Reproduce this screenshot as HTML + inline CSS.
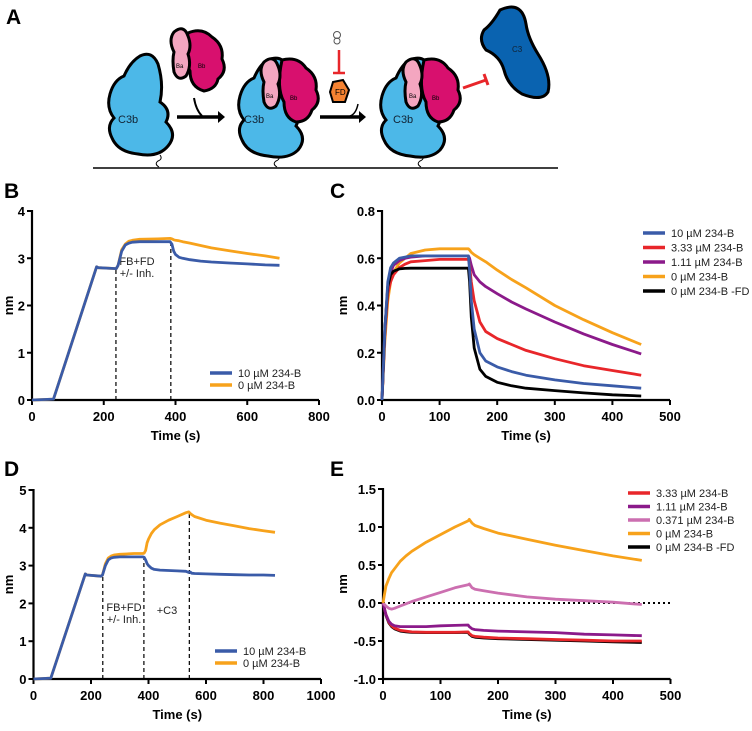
<!DOCTYPE html>
<html><head><meta charset="utf-8">
<style>
body{margin:0;background:#fff;width:752px;height:731px;overflow:hidden;font-family:"Liberation Sans",sans-serif}
svg{position:absolute;left:0;top:0}
text{font-family:"Liberation Sans",sans-serif}
</style></head><body>
<svg id="fig" width="752" height="731" viewBox="0 0 752 731">
<g>
<text x="6" y="24" font-size="21" font-weight="bold">A</text>
<line x1="93" y1="168" x2="558" y2="168" stroke="#000" stroke-width="1.5"/>
<g>
<path d="M160 155 q3 4 -2 6 q-4 3 1 6" stroke="#000" fill="none"/>
<path d="M140 56 q12 -6 18 8 q6 20 2 38 q12 8 6 20 q12 12 2 24 q-10 12 -30 8 q-20 -2 -26 -16 q-6 -12 2 -20 q-8 -10 -4 -24 q4 -14 14 -18 q6 -14 16 -20z" fill="#4cb8e8" stroke="#000" stroke-width="3"/>
<text x="118" y="123" font-size="11" fill="#123">C3b</text></g>
<g>
<path d="M188 33 q14 -6 24 4 q12 8 10 22 q6 12 -4 20 q-2 10 -14 12 q-14 -4 -14 -20 q-8 -14 -2 -38z" fill="#d8106e" stroke="#000" stroke-width="3"/>
<path d="M174 32 q10 -8 14 4 q4 10 0 18 q4 12 -2 22 q-8 6 -12 -4 q-2 -12 0 -20 q-6 -12 0 -20z" fill="#f4a6c0" stroke="#000" stroke-width="3"/>
<text x="176" y="68" font-size="6">Ba</text><text x="198" y="68" font-size="6">Bb</text></g>
<path d="M177 117 h42" stroke="#000" stroke-width="3.5"/>
<path d="M218 111 l7 6 l-7 6z" fill="#000"/>
<path d="M194 98 q2 12 8 18" stroke="#000" stroke-width="2" fill="none"/>
<g>
<path d="M278 155 q3 4 -2 6 q-4 3 1 6" stroke="#000" fill="none"/>
<path d="M268 60 q14 -6 20 8 q6 20 2 38 q12 8 6 20 q12 12 2 24 q-10 10 -30 6 q-20 -2 -26 -16 q-6 -12 2 -20 q-8 -10 -4 -24 q4 -14 14 -18 q6 -14 14 -18z" fill="#4cb8e8" stroke="#000" stroke-width="3"/>
<path d="M282 60 q16 -4 24 8 q12 8 10 22 q6 12 -4 20 q-4 12 -16 12 q-12 -4 -12 -20 q-8 -14 -2 -42z" fill="#d8106e" stroke="#000" stroke-width="3"/>
<path d="M264 62 q10 -8 14 4 q4 10 0 18 q4 12 -2 22 q-8 6 -12 -4 q-2 -12 0 -20 q-6 -12 0 -20z" fill="#f4a6c0" stroke="#000" stroke-width="3"/>
<text x="244" y="123" font-size="11" fill="#123">C3b</text><text x="266" y="98" font-size="6">Ba</text><text x="290" y="100" font-size="6">Bb</text></g>
<path d="M320 117 h40" stroke="#000" stroke-width="3.5"/>
<path d="M359 111 l7 6 l-7 6z" fill="#000"/>
<path d="M350 116 q6 -2 8 -12" stroke="#000" stroke-width="1.5" fill="none"/>
<path d="M333 82 l10 -2 l6 10 l-4 12 l-12 0 l-3 -10z" fill="#f58231" stroke="#000" stroke-width="2"/>
<text x="335" y="95" font-size="8">FD</text>
<path d="M339 50 v22 M333 73 h12" stroke="#e8262a" stroke-width="2.5"/>
<circle cx="337" cy="35" r="3.5" fill="none" stroke="#555" stroke-width="1"/>
<circle cx="337" cy="41" r="3" fill="none" stroke="#555" stroke-width="1"/>
<g>
<path d="M422 155 q3 4 -2 6 q-4 3 1 6" stroke="#000" fill="none"/>
<path d="M410 60 q14 -6 20 8 q6 20 2 38 q12 8 6 20 q12 12 2 24 q-10 10 -30 6 q-20 -2 -26 -16 q-6 -12 2 -20 q-8 -10 -4 -24 q4 -14 14 -18 q6 -14 14 -18z" fill="#4cb8e8" stroke="#000" stroke-width="3"/>
<path d="M424 60 q16 -4 24 8 q12 8 10 22 q6 12 -4 20 q-4 12 -16 12 q-12 -4 -12 -20 q-8 -14 -2 -42z" fill="#d8106e" stroke="#000" stroke-width="3"/>
<path d="M406 62 q10 -8 14 4 q4 10 0 18 q4 12 -2 22 q-8 6 -12 -4 q-2 -12 0 -20 q-6 -12 0 -20z" fill="#f4a6c0" stroke="#000" stroke-width="3"/>
<text x="393" y="123" font-size="11" fill="#123">C3b</text><text x="409" y="98" font-size="6">Ba</text><text x="432" y="100" font-size="6">Bb</text></g>
<path d="M463 88 l23 -8 M484 74 l4 11" stroke="#e8262a" stroke-width="3"/>
<path d="M500 10 q22 -10 26 14 q2 14 12 30 q14 22 10 38 q-6 10 -26 2 q-14 -8 -18 -24 q-4 -14 -18 -20 q-8 -10 -2 -20 q8 -6 16 -20z" fill="#0a63b0" stroke="#000" stroke-width="3"/>
<text x="512" y="52" font-size="8" fill="#123">C3</text>
</g>
<text x="4" y="198" font-size="21" font-weight="bold">B</text>
<text x="330" y="198" font-size="21" font-weight="bold">C</text>
<text x="4" y="476" font-size="21" font-weight="bold">D</text>
<text x="330" y="476" font-size="21" font-weight="bold">E</text>
</svg>
<script>
// Panel B data
const bTime=[0,60,180,185,235,240,250,260,270,280,300,350,385,390,395,400,410,420,440,470,500,550,600,650,690];
const bBlue=[0,0.02,2.82,2.8,2.78,2.85,3.15,3.28,3.32,3.34,3.35,3.35,3.35,3.3,3.15,3.08,3.02,3.0,2.97,2.94,2.92,2.9,2.88,2.86,2.85];
const bOrange=[0,0.02,2.82,2.8,2.78,2.85,3.18,3.3,3.36,3.38,3.4,3.41,3.42,3.41,3.39,3.38,3.37,3.35,3.32,3.27,3.22,3.16,3.1,3.05,3.0];
const bXTicks=[0,200,400,600,800];
const bYTicks=[0,1,2,3,4];
// Panel C data
const cTime=[0,5,10,15,20,30,40,50,75,100,125,150,152,155,160,170,180,200,225,250,300,350,400,450];
const c10=[0,0.3,0.5,0.56,0.58,0.6,0.605,0.61,0.61,0.61,0.61,0.61,0.55,0.42,0.3,0.2,0.165,0.14,0.12,0.105,0.085,0.07,0.06,0.05];
const c333=[0,0.28,0.45,0.5,0.53,0.56,0.575,0.585,0.59,0.595,0.595,0.595,0.57,0.5,0.42,0.33,0.29,0.26,0.235,0.21,0.175,0.145,0.125,0.105];
const c111=[0,0.3,0.48,0.54,0.57,0.59,0.6,0.605,0.61,0.61,0.61,0.61,0.6,0.57,0.53,0.5,0.48,0.45,0.415,0.385,0.33,0.28,0.235,0.195];
const c0=[0,0.25,0.42,0.5,0.54,0.58,0.6,0.62,0.635,0.64,0.64,0.64,0.635,0.625,0.615,0.6,0.585,0.55,0.51,0.475,0.4,0.34,0.285,0.235];
const c0noFD=[0,0.3,0.48,0.53,0.545,0.555,0.557,0.558,0.558,0.558,0.558,0.558,0.5,0.35,0.22,0.13,0.1,0.075,0.06,0.05,0.04,0.03,0.022,0.017];
const cXTicks=[0,100,200,300,400,500];
const cYTicks=[0,0.2,0.4,0.6,0.8];
// Panel D data
const dTime=[0,60,180,185,235,240,250,260,270,280,300,350,380,385,390,395,400,410,420,440,470,500,530,540,545,550,560,600,650,700,750,800,840];
const dBlue=[0,0.02,2.78,2.75,2.72,2.75,3.0,3.15,3.2,3.22,3.23,3.23,3.23,3.22,3.15,3.05,3.0,2.93,2.9,2.88,2.87,2.86,2.85,2.82,2.83,2.8,2.79,2.78,2.77,2.76,2.75,2.75,2.74];
const dOrange=[0,0.02,2.78,2.75,2.72,2.75,3.05,3.2,3.25,3.28,3.3,3.32,3.32,3.33,3.4,3.6,3.7,3.85,3.95,4.08,4.2,4.3,4.4,4.42,4.38,4.35,4.3,4.2,4.12,4.05,3.98,3.92,3.88];
const dXTicks=[0,200,400,600,800,1000];
const dYTicks=[0,1,2,3,4,5];
// Panel E data
const eTime=[0,5,10,15,20,30,40,50,75,100,125,148,150,155,160,175,200,250,300,350,400,450];
const e333=[0,-0.15,-0.25,-0.3,-0.33,-0.36,-0.37,-0.38,-0.385,-0.385,-0.385,-0.38,-0.4,-0.43,-0.44,-0.45,-0.46,-0.47,-0.48,-0.49,-0.5,-0.5];
const e111=[0,-0.15,-0.24,-0.28,-0.3,-0.31,-0.31,-0.31,-0.31,-0.3,-0.295,-0.29,-0.31,-0.34,-0.35,-0.36,-0.37,-0.38,-0.39,-0.41,-0.42,-0.43];
const e0371=[0,-0.04,-0.07,-0.08,-0.07,-0.04,-0.01,0.02,0.08,0.14,0.2,0.24,0.25,0.2,0.18,0.16,0.13,0.08,0.05,0.03,0.01,-0.02];
const e0=[0,0.22,0.32,0.4,0.45,0.55,0.62,0.68,0.8,0.9,1.0,1.08,1.1,1.05,1.02,0.98,0.92,0.84,0.76,0.69,0.62,0.56];
const e0noFD=[0,-0.16,-0.26,-0.31,-0.34,-0.37,-0.38,-0.385,-0.39,-0.39,-0.39,-0.385,-0.41,-0.44,-0.45,-0.46,-0.47,-0.48,-0.49,-0.5,-0.51,-0.52];
const eXTicks=[0,100,200,300,400,500];
const eYTicks=[-1.0,-0.5,0.0,0.5,1.0,1.5];

const NS='http://www.w3.org/2000/svg';
const svg=document.getElementById('fig');
function mk(tag,attrs,parent){const e=document.createElementNS(NS,tag);for(const k in attrs)e.setAttribute(k,attrs[k]);(parent||svg).appendChild(e);return e;}
function chart(o){
  const g=mk('g',{});
  
  
  const sx=v=>o.px0+(v-o.xmin)/(o.xmax-o.xmin)*(o.px1-o.px0);
  const sy=v=>o.py0+(v-o.ymin)/(o.ymax-o.ymin)*(o.py1-o.py0);
  const ax=mk('path',{d:`M${o.px0} ${o.py1-1} V${o.py0} H${o.px1}`,stroke:'#000','stroke-width':2.2,fill:'none'},g);
  
  
  o.xt.forEach(v=>{
    mk('line',{x1:sx(v),x2:sx(v),y1:o.py0,y2:o.py0+5,stroke:'#000','stroke-width':2},g);
    const t=mk('text',{x:sx(v),y:o.py0+21,'text-anchor':'middle','font-size':13,'font-weight':'bold'},g);
    t.textContent=v;
    
    
  });
  o.yt.forEach(v=>{
    mk('line',{x1:o.px0-5,x2:o.px0,y1:sy(v),y2:sy(v),stroke:'#000','stroke-width':2},g);
    const t=mk('text',{x:o.px0-7,y:sy(v)+5,'text-anchor':'end','font-size':13,'font-weight':'bold'},g);
    t.textContent=o.fmt?o.fmt(v):v;
    
    
  });
  const xt=mk('text',{x:(o.px0+o.px1)/2,y:o.py0+40,'text-anchor':'middle','font-size':13,'font-weight':'bold'},g);
  xt.textContent='Time (s)';
  
  
  const yc=(o.py0+o.py1)/2;
  const yt=mk('text',{x:o.ytx,y:yc,'text-anchor':'middle','font-size':13,'font-weight':'bold',transform:`rotate(-90 ${o.ytx} ${yc})`},g);
  yt.textContent='nm';
  
  
  if(o.zero){
    const z=mk('line',{x1:o.px0,x2:o.px1,y1:sy(0),y2:sy(0),stroke:'#000','stroke-width':2,'stroke-dasharray':'2 3'},g);
    
    
  }
  (o.dashes||[]).forEach(d=>{
    const l=mk('line',{x1:sx(d[0]),x2:sx(d[0]),y1:o.py0,y2:sy(d[1]),stroke:'#000','stroke-width':1.2,'stroke-dasharray':'4 3'},g);
    
    
  });
  (o.notes||[]).forEach(n=>{
    const t=mk('text',{x:n[0],y:n[1],'text-anchor':'middle','font-size':11,fill:'#222'},g);
    t.textContent=n[2];
    
    
  });
  o.series.forEach(s=>{
    const d=o.t.map((v,i)=>(i?'L':'M')+sx(v).toFixed(1)+' '+sy(s.v[i]).toFixed(1)).join(' ');
    const p=mk('path',{d:d,stroke:s.c,'stroke-width':2.8,fill:'none','stroke-linejoin':'round'},g);
    
    
  });
  o.legend.forEach((s,i)=>{
    const y=o.ly+i*o.lstep;
    const l=mk('line',{x1:o.lx,x2:o.lx+22,y1:y,y2:y,stroke:s.c,'stroke-width':3.5},g);
    
    
    const t=mk('text',{x:o.lx+28,y:y+4,'font-size':11,fill:'#222'},g);
    t.textContent=s.n;
    
    
  });
}
const BL='#3a5ba8',OR='#f7a21b',RD='#e8262a',PU='#8b1a8a',PK='#cc6fb0',BK='#000';
chart({name:'chart-b',px0:32,px1:319,py0:400,py1:211,xmin:0,xmax:800,ymin:0,ymax:4,xt:bXTicks,yt:bYTicks,ytx:13,t:bTime,
 series:[{v:bOrange,c:OR},{v:bBlue,c:BL}],dashes:[[234,2.8],[387,3.42]],notes:[[137,265,'FB+FD'],[137,277,'+/- Inh.']],
 legend:[{n:'10 µM 234-B',c:BL},{n:'0 µM 234-B',c:OR}],lx:210,ly:373,lstep:12});
chart({name:'chart-c',px0:382,px1:670,py0:400,py1:211,xmin:0,xmax:500,ymin:0,ymax:0.8,xt:cXTicks,yt:cYTicks,fmt:v=>v.toFixed(1),ytx:347,t:cTime,
 series:[{v:c0,c:OR},{v:c111,c:PU},{v:c333,c:RD},{v:c0noFD,c:BK},{v:c10,c:BL}],
 legend:[{n:'10 µM 234-B',c:BL},{n:'3.33 µM 234-B',c:RD},{n:'1.11 µM 234-B',c:PU},{n:'0 µM 234-B',c:OR},{n:'0 µM 234-B -FD',c:BK}],lx:643,ly:233,lstep:14.5});
chart({name:'chart-d',px0:33.5,px1:321,py0:679,py1:490,xmin:0,xmax:1000,ymin:0,ymax:5,xt:dXTicks,yt:dYTicks,ytx:13,t:dTime,
 series:[{v:dOrange,c:OR},{v:dBlue,c:BL}],dashes:[[241,2.75],[384,3.33],[542,4.42]],notes:[[124,611,'FB+FD'],[124,623,'+/- Inh.'],[167,614,'+C3']],
 legend:[{n:'10 µM 234-B',c:BL},{n:'0 µM 234-B',c:OR}],lx:215,ly:651,lstep:12});
chart({name:'chart-e',px0:383,px1:670.5,py0:679,py1:489,xmin:0,xmax:500,ymin:-1,ymax:1.5,xt:eXTicks,yt:eYTicks,fmt:v=>v.toFixed(1),ytx:347,t:eTime,zero:true,
 series:[{v:e0noFD,c:BK},{v:e333,c:RD},{v:e111,c:PU},{v:e0371,c:PK},{v:e0,c:OR}],
 legend:[{n:'3.33 µM 234-B',c:RD},{n:'1.11 µM 234-B',c:PU},{n:'0.371 µM  234-B',c:PK},{n:'0 µM 234-B',c:OR},{n:'0 µM 234-B -FD',c:BK}],lx:628,ly:493,lstep:13.5});
</script>
</body></html>
